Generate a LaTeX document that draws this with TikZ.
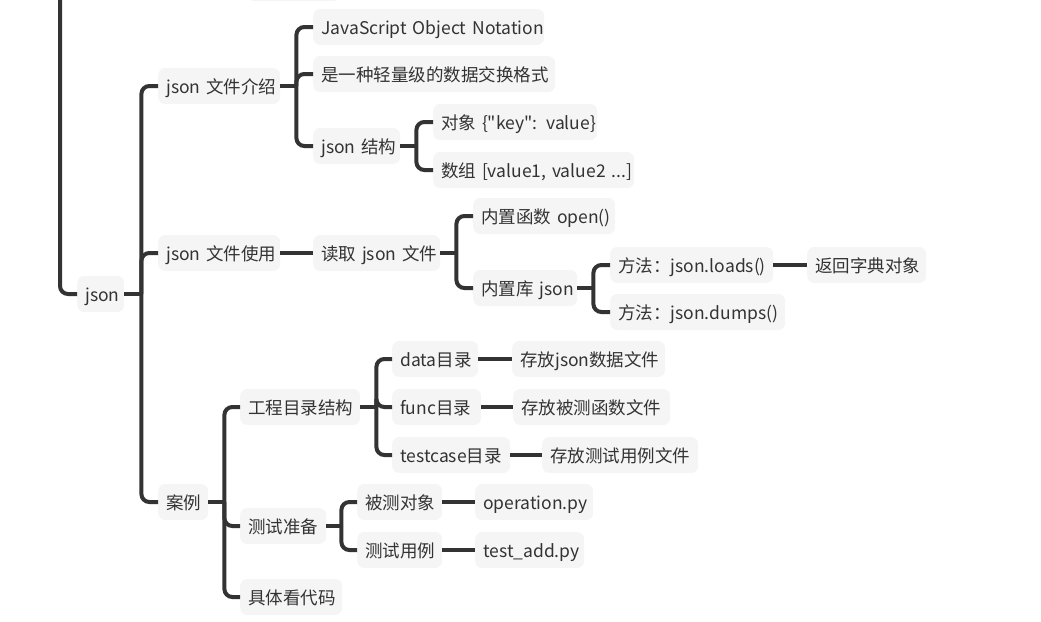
\documentclass[tikz,border=0pt]{standalone}
\usepackage{fontspec}
\setmainfont{Noto Sans CJK SC}[Ligatures=TeXOff]
\definecolor{nodefill}{HTML}{F5F5F5}
\definecolor{lc}{HTML}{333333}
\definecolor{txt}{HTML}{333333}
\newcommand{\tx}[1]{\mbox{#1}}
\begin{document}
\begin{tikzpicture}[x=1pt,y=-1pt,
  nd/.style={anchor=west, fill=nodefill, rounded corners=7pt, minimum height=36pt,
    inner xsep=8pt, inner ysep=0pt, text width=#1, align=left,
    text height=15.5pt, text depth=0pt,
    font=\fontsize{17.5}{19}\selectfont, text=txt},
  ln/.style={draw=lc, line width=4pt},
  br/.style={draw=lc, line width=4pt, rounded corners=8pt}]
\useasboundingbox (0,0) rectangle (1041,621);
\clip (0,0) rectangle (1041,621);
% partial node above
\node[nd=77pt] (top) at (247,-17) {};
\coordinate (up) at (60,-20);
% nodes (text width = box width - 16)
\node[nd=31pt] (json) at (77,294) {\tx{json}};
\node[nd=106pt] (intro) at (158,86) {\tx{json 文件介绍}};
\node[nd=215pt] (jon) at (313,27) {\tx{JavaScript Object Notation}};
\node[nd=226pt] (light) at (313,74) {\tx{是一种轻量级的数据交换格式}};
\node[nd=71pt] (struct) at (313,146) {\tx{json 结构}};
\node[nd=148pt] (obj) at (433,122) {\tx{对象 \{"key": value\}}};
\node[nd=185pt] (arr) at (433,170) {\tx{数组 [value1, value2 ...]}};
\node[nd=106pt] (use) at (158,253) {\tx{json 文件使用}};
\node[nd=111pt] (read) at (313,253) {\tx{读取 json 文件}};
\node[nd=126pt] (open) at (473,216) {\tx{内置函数 open()}};
\node[nd=88pt] (lib) at (473,288) {\tx{内置库 json}};
\node[nd=147pt] (loads) at (610,265) {\tx{方法：json.loads()}};
\node[nd=103pt] (dict) at (807,265) {\tx{返回字典对象}};
\node[nd=159pt] (dumps) at (610,312) {\tx{方法：json.dumps()}};
\node[nd=34pt] (case) at (158,502) {\tx{案例}};
\node[nd=104pt] (proj) at (240,407) {\tx{工程目录结构}};
\node[nd=70pt] (data) at (392,359) {\tx{data目录}};
\node[nd=137pt] (datad) at (512,359) {\tx{存放json数据文件}};
\node[nd=73pt] (func) at (392,407) {\tx{func目录}};
\node[nd=141pt] (funcd) at (513,407) {\tx{存放被测函数文件}};
\node[nd=102pt] (tc) at (392,455) {\tx{testcase目录}};
\node[nd=140pt] (tcd) at (542,455) {\tx{存放测试用例文件}};
\node[nd=70pt] (prep) at (240,526) {\tx{测试准备}};
\node[nd=69pt] (obj2) at (357,502) {\tx{被测对象}};
\node[nd=102pt] (op) at (475,502) {\tx{operation.py}};
\node[nd=69pt] (tcase) at (357,550) {\tx{测试用例}};
\node[nd=93pt] (add) at (475,550) {\tx{test\_add.py}};
\node[nd=86pt] (code) at (240,597) {\tx{具体看代码}};
% connectors
\draw[br] (up) |- (json.west);
\draw[ln] (json.east) -- ([xshift=17pt]json.east);
\foreach \c in {intro,use,case} \draw[br] ([xshift=17pt]json.east) |- (\c.west);
\draw[ln] (intro.east) -- ([xshift=16pt]intro.east);
\foreach \c in {jon,light,struct} \draw[br] ([xshift=16pt]intro.east) |- (\c.west);
\draw[ln] (struct.east) -- ([xshift=16pt]struct.east);
\foreach \c in {obj,arr} \draw[br] ([xshift=16pt]struct.east) |- (\c.west);
\draw[ln] (use.east) -- (read.west);
\draw[ln] (read.east) -- ([xshift=16pt]read.east);
\foreach \c in {open,lib} \draw[br] ([xshift=16pt]read.east) |- (\c.west);
\draw[ln] (lib.east) -- ([xshift=16pt]lib.east);
\foreach \c in {loads,dumps} \draw[br] ([xshift=16pt]lib.east) |- (\c.west);
\draw[ln] (loads.east) -- (dict.west);
\draw[ln] (case.east) -- ([xshift=16pt]case.east);
\foreach \c in {proj,prep,code} \draw[br] ([xshift=16pt]case.east) |- (\c.west);
\draw[ln] (proj.east) -- ([xshift=16pt]proj.east);
\foreach \c in {data,func,tc} \draw[br] ([xshift=16pt]proj.east) |- (\c.west);
\draw[ln] (data.east) -- (datad.west);
\draw[ln] (func.east) -- (funcd.west);
\draw[ln] (tc.east) -- (tcd.west);
\draw[ln] (prep.east) -- ([xshift=15pt]prep.east);
\foreach \c in {obj2,tcase} \draw[br] ([xshift=15pt]prep.east) |- (\c.west);
\draw[ln] (obj2.east) -- (op.west);
\draw[ln] (tcase.east) -- (add.west);
\end{tikzpicture}
\end{document}
